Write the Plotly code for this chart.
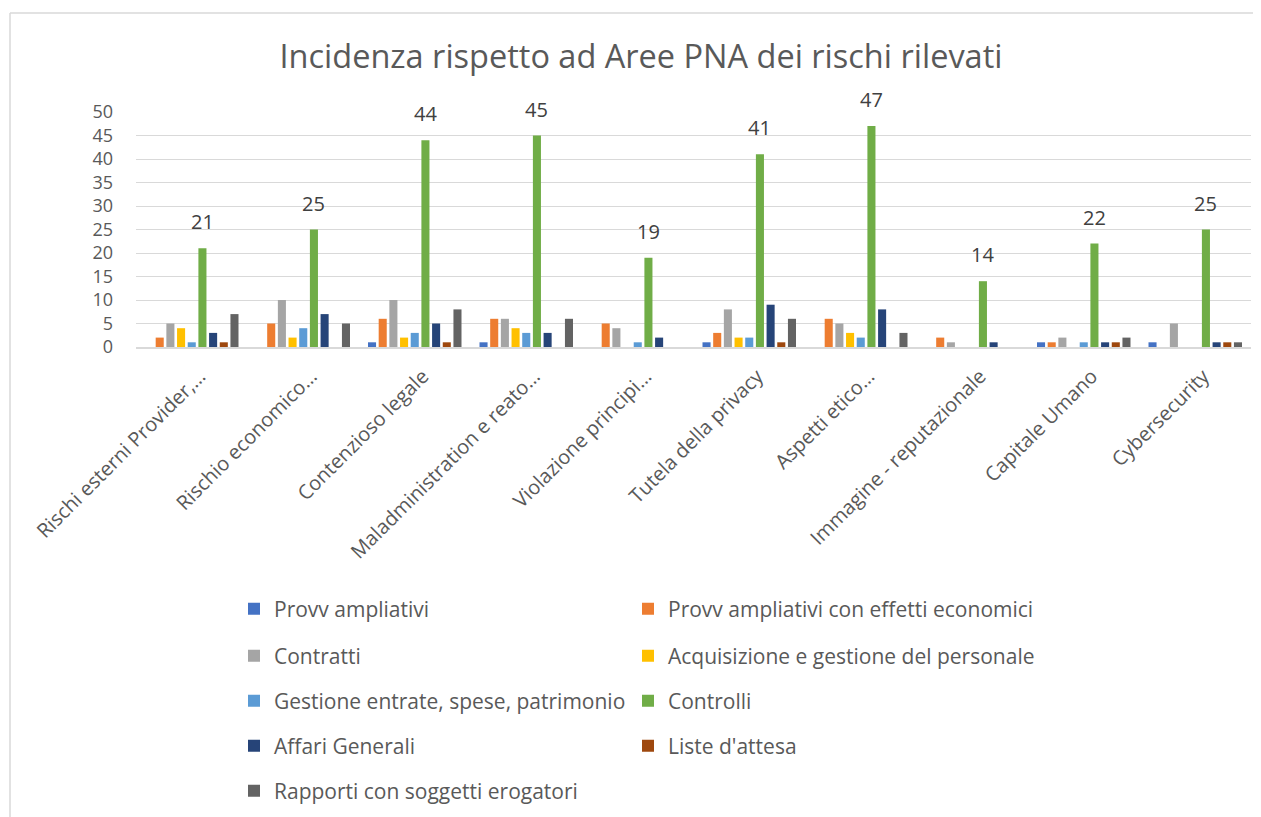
import plotly.graph_objects as go

# Categories (truncated as in the original)
categories = [
    "Rischi esterni Provider,…",
    "Rischio economico…",
    "Contenzioso legale",
    "Maladministration e reato…",
    "Violazione principi…",
    "Tutela della privacy",
    "Aspetti etico…",
    "Immagine - reputazionale",
    "Capitale Umano",
    "Cybersecurity",
]

provv_ampliativi = [0, 0, 1, 1, 0, 1, 0, 0, 1, 1]
provv_economici = [2, 5, 6, 6, 5, 3, 6, 2, 1, 0]
contratti = [5, 10, 10, 6, 4, 8, 5, 1, 2, 5]
acquisizione = [4, 2, 2, 4, 0, 2, 3, 0, 0, 0]
gestione_entrate = [1, 4, 3, 3, 1, 2, 2, 0, 1, 0]
controlli = [21, 25, 44, 45, 19, 41, 47, 14, 22, 25]
affari_generali = [3, 7, 5, 3, 2, 9, 8, 1, 1, 1]
liste_attesa = [1, 0, 1, 0, 0, 1, 0, 0, 1, 1]
rapporti = [7, 5, 8, 6, 0, 6, 3, 0, 2, 1]

series = [
    ("Provv ampliativi", provv_ampliativi, "#4472C4"),
    ("Provv ampliativi con effetti economici", provv_economici, "#ED7D31"),
    ("Contratti", contratti, "#A5A5A5"),
    ("Acquisizione e gestione del personale", acquisizione, "#FFC000"),
    ("Gestione entrate, spese, patrimonio", gestione_entrate, "#5B9BD5"),
    ("Controlli", controlli, "#70AD47"),
    ("Affari Generali", affari_generali, "#264478"),
    ("Liste d'attesa", liste_attesa, "#9E480E"),
    ("Rapporti con soggetti erogatori", rapporti, "#636363"),
]

FONT = "Open Sans"
TXT = "#595959"
BARGAP = 0.138

# the page body adds an 8px offset, so work in shifted pixel coordinates
OFF = 8
W, H = 1261 - OFF, 817 - OFF
L, R, T, B = 136 - OFF, 18 - OFF, 112 - OFF, 470
ph = H - T - B
pw = W - L - R


def px_(xpix):
    return (xpix - OFF - L) / pw


def py(ypix):
    return (H - B - (ypix - OFF)) / ph


fig = go.Figure()
legend_cfg = {}
for i, (name, vals, color) in enumerate(series):
    leg = "legend" if i == 0 else f"legend{i + 1}"
    # zero values are not drawn in the original
    yv = [v if v > 0 else None for v in vals]
    fig.add_trace(go.Bar(x=categories, y=yv, name=name, marker_color=color,
                         marker_line_width=0, legend=leg))
    # legend laid out in two columns, one legend per entry
    col, row = i % 2, i // 2
    legend_cfg[leg] = dict(
        orientation="h", x=px_(234 + 394 * col), xanchor="left",
        y=py([609, 656, 701, 746, 791][row]), yanchor="middle",
        font=dict(size=21, color=TXT, family=FONT), bgcolor="rgba(0,0,0,0)",
    )

# data labels above the Controlli bars
slot = pw / len(categories) * (1 - BARGAP) / len(series)
ctrl_shift = (5 - (len(series) - 1) / 2) * slot
for cat, v in zip(categories, controlli):
    fig.add_annotation(x=cat, y=v, text=str(v), showarrow=False,
                       xshift=ctrl_shift, yshift=11, yanchor="bottom",
                       font=dict(size=20, color="#404040", family=FONT))

fig.update_layout(
    width=W, height=H,
    margin=dict(l=L, r=R, t=T, b=B, autoexpand=False),
    paper_bgcolor="white", plot_bgcolor="white",
    barmode="group", bargap=BARGAP, bargroupgap=0.245,
    font=dict(family=FONT, color=TXT),
    title=dict(text="Incidenza rispetto ad Aree PNA dei rischi rilevati",
               x=(641 - OFF) / W, xanchor="center", y=1 - (57 - OFF) / H,
               yanchor="middle",
               font=dict(size=32.5, color=TXT, family=FONT)),
    showlegend=True,
    **legend_cfg,
)

fig.update_yaxes(range=[0, 50], dtick=5, showgrid=True, gridcolor="#d9d9d9",
                 gridwidth=1.3, zeroline=False, ticks="", ticklabelstandoff=22,
                 tickfont=dict(size=18, color=TXT, family=FONT))
fig.update_xaxes(tickangle=-45, showline=True, linecolor="#d9d9d9", linewidth=1.5,
                 ticks="", ticklabelshift=8, ticklabelstandoff=8,
                 tickfont=dict(size=20, color=TXT, family=FONT))

# chart border (left and top edges visible in the original)
fig.add_shape(type="line", xref="paper", yref="paper",
              x0=px_(10), x1=px_(10), y0=py(13), y1=py(830),
              line=dict(color="#d9d9d9", width=1.5))
fig.add_shape(type="line", xref="paper", yref="paper",
              x0=px_(10), x1=px_(1270), y0=py(13), y1=py(13),
              line=dict(color="#d9d9d9", width=1.5))

fig.write_html("out.html")
